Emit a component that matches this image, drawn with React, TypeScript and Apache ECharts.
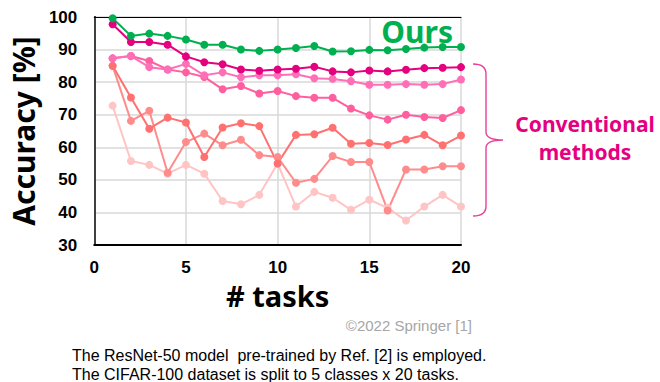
import React, { useEffect, useRef } from "react";
import * as echarts from "echarts";

const tasks = [1, 2, 3, 4, 5, 6, 7, 8, 9, 10, 11, 12, 13, 14, 15, 16, 17, 18, 19, 20];
const ours = [99.6, 94.2, 94.9, 94.2, 93.1, 91.5, 91.5, 90.0, 89.6, 90.0, 90.5, 91.1, 89.4, 89.5, 89.9, 89.8, 90.2, 90.6, 90.8, 90.8];
const convA = [97.8, 92.3, 92.3, 91.5, 87.9, 86.1, 85.5, 83.9, 83.5, 83.9, 84.1, 84.7, 83.3, 83.0, 83.6, 83.3, 83.8, 84.3, 84.4, 84.6];
const convB = [87.3, 88.0, 84.6, 83.9, 85.6, 82.1, 83.0, 81.5, 82.1, 82.1, 82.4, 81.2, 81.0, 80.3, 79.2, 79.2, 79.4, 79.2, 79.4, 80.8];
const convC = [87.3, 88.0, 86.5, 83.9, 83.0, 81.6, 77.8, 78.8, 76.5, 77.3, 75.7, 75.2, 75.2, 71.9, 69.8, 68.5, 70.0, 69.3, 69.0, 71.4];
const convD = [85.0, 75.3, 65.7, 69.1, 67.6, 57.0, 66.1, 67.4, 66.5, 55.0, 63.8, 64.0, 66.0, 61.1, 61.3, 60.7, 62.4, 63.8, 60.6, 63.6];
const convE = [85.0, 68.1, 71.2, 52.2, 61.6, 64.2, 60.6, 62.3, 57.6, 57.0, 49.1, 50.3, 57.3, 55.5, 55.5, 40.6, 53.2, 53.2, 54.2, 54.2];
const convF = [72.8, 55.8, 54.6, 51.9, 54.6, 51.9, 43.5, 42.5, 45.4, 55.0, 41.8, 46.3, 44.5, 40.8, 43.9, 41.4, 37.5, 41.8, 45.4, 41.8];

const seriesDefs = [
  { name: "convF", data: convF, color: "#ffc4c4" },
  { name: "convE", data: convE, color: "#ff8c8c" },
  { name: "convD", data: convD, color: "#ff7070" },
  { name: "convC", data: convC, color: "#ff5f9e" },
  { name: "convB", data: convB, color: "#ff6fb8" },
  { name: "convA", data: convA, color: "#e4007f" },
  { name: "Ours", data: ours, color: "#00b050" },
];

const braceD =
  "M473,64 Q486,64 486,74 L486,132 Q486,140 503,140 Q486,140 486,148 L486,206 Q486,216 473,216";

export default function App() {
  const ref = useRef<HTMLDivElement>(null);
  useEffect(() => {
    if (!ref.current) return;
    echarts.graphic.registerShape("brace", echarts.graphic.extendPath(braceD, {}));
    const chart = echarts.init(ref.current, null, { renderer: "svg" });
    const boldFont = "Liberation Sans";
    chart.setOption({
      animation: false,
      backgroundColor: "#ffffff",
      grid: { left: 90, top: 17, width: 371, height: 228, containLabel: false },
      xAxis: [
        {
          type: "value",
          min: 0,
          max: 20,
          interval: 5,
          name: "# tasks",
          nameLocation: "middle",
          nameGap: 35,
          nameTextStyle: { fontSize: 29, fontWeight: "bold", color: "#000", fontFamily: "Noto Sans" },
          axisLine: { show: true, lineStyle: { color: "#000", width: 2 } },
          axisTick: { show: false },
          axisLabel: { fontSize: 17, fontWeight: "bold", color: "#000", margin: 14, fontFamily: boldFont },
          splitLine: { show: true, lineStyle: { color: "#d9d9d9", width: 1.5 } },
        },
        {
          type: "value",
          position: "top",
          min: 0,
          max: 20,
          axisLine: { show: true, lineStyle: { color: "#000", width: 1 } },
          axisTick: { show: false },
          axisLabel: { show: false },
          splitLine: { show: false },
        },
      ],
      yAxis: [
        {
          type: "value",
          min: 30,
          max: 100,
          interval: 10,
          name: "Accuracy [%]",
          nameLocation: "middle",
          nameGap: 52,
          nameRotate: 90,
          nameTextStyle: { fontSize: 30, fontWeight: "bold", color: "#000", fontFamily: "Noto Sans" },
          axisLine: { show: true, lineStyle: { color: "#000", width: 2 } },
          axisTick: { show: false },
          axisLabel: { fontSize: 17, fontWeight: "bold", color: "#000", margin: 17, fontFamily: boldFont },
          splitLine: { show: true, lineStyle: { color: "#d9d9d9", width: 1.5 } },
        },
        {
          type: "value",
          position: "right",
          min: 30,
          max: 100,
          axisLine: { show: true, lineStyle: { color: "#404040", width: 2 } },
          axisTick: { show: false },
          axisLabel: { show: false },
          splitLine: { show: false },
        },
      ],
      series: seriesDefs.map((s) => ({
        name: s.name,
        type: "line",
        xAxisIndex: 0,
        yAxisIndex: 0,
        data: tasks.map((t, i) => [t, s.data[i]]),
        symbol: "circle",
        symbolSize: 8,
        lineStyle: { color: s.color, width: 2 },
        itemStyle: { color: s.color },
        z: 3,
      })),
      graphic: [
        {
          type: "text",
          x: 453,
          y: 31,
          style: {
            text: "Ours",
            font: "bold 30px 'Noto Sans'",
            fill: "#00b050",
            align: "right",
            verticalAlign: "middle",
          },
          z: 10,
        },
        {
          type: "brace",
          x: 0,
          y: 0,
          style: { stroke: "#e8409a", lineWidth: 1.4, fill: "none" },
        },
        {
          type: "text",
          x: 585,
          y: 124,
          style: {
            text: "Conventional",
            font: "bold 21px 'Noto Sans'",
            fill: "#e4007f",
            align: "center",
            verticalAlign: "middle",
          },
        },
        {
          type: "text",
          x: 585,
          y: 152,
          style: {
            text: "methods",
            font: "bold 21px 'Noto Sans'",
            fill: "#e4007f",
            align: "center",
            verticalAlign: "middle",
          },
        },
        {
          type: "text",
          x: 472,
          y: 325,
          style: {
            text: "©2022 Springer [1]",
            font: "15px 'Liberation Sans'",
            fill: "#a6a6a6",
            align: "right",
            verticalAlign: "middle",
          },
        },
        {
          type: "text",
          x: 72,
          y: 355,
          style: {
            text: "The ResNet-50 model  pre-trained by Ref. [2] is employed.",
            font: "16px 'Liberation Sans'",
            fill: "#000",
            verticalAlign: "middle",
          },
        },
        {
          type: "text",
          x: 72,
          y: 374,
          style: {
            text: "The CIFAR-100 dataset is split to 5 classes x 20 tasks.",
            font: "16px 'Liberation Sans'",
            fill: "#000",
            verticalAlign: "middle",
          },
        },
      ],
    });
    return () => chart.dispose();
  }, []);
  return <div ref={ref} style={{ width: 660, height: 382, position: "absolute", left: 0, top: 0 }} />;
}
